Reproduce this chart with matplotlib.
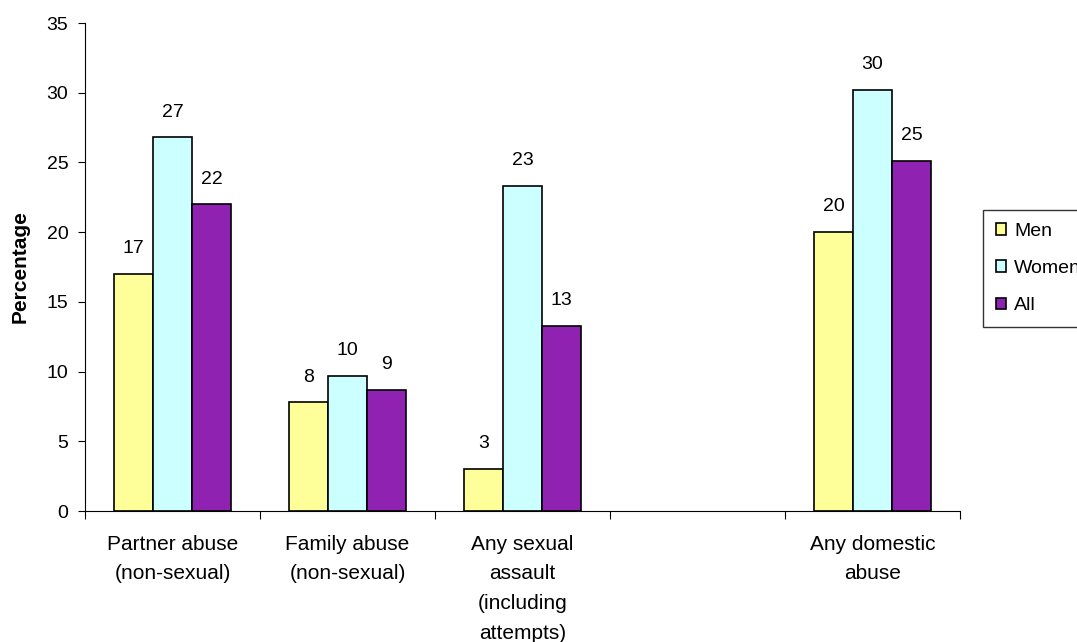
import numpy as np
import matplotlib
matplotlib.use("Agg")
import matplotlib.pyplot as plt

plt.rcParams['font.family'] = ['Liberation Sans', 'DejaVu Sans']

categories = ["Partner abuse\n(non-sexual)", "Family abuse\n(non-sexual)",
              "Any sexual\nassault\n(including\nattempts)", "", "Any domestic\nabuse"]
men = [17.0, 7.8, 3.0, None, 20.0]
women = [26.8, 9.7, 23.3, None, 30.2]
all_ = [22.0, 8.7, 13.3, None, 25.1]
series = [("Men", men, "#FFFF99"), ("Women", women, "#CCFFFF"), ("All", all_, "#8F22B1")]

fs = 14
fig = plt.figure(figsize=(10.77, 6.42), dpi=100)
ax = fig.add_axes([85 / 1077, 1 - 511 / 642, 875 / 1077, 488 / 642])

x = np.arange(len(categories))
w = 0.223
for i, (name, vals, color) in enumerate(series):
    xs = [xi + (i - 1) * w for xi, v in zip(x, vals) if v is not None]
    vs = [v for v in vals if v is not None]
    bars = ax.bar(xs, vs, w, color=color, edgecolor="black", linewidth=1.2, label=name)
    for b, v in zip(bars, vs):
        ax.text(b.get_x() + b.get_width() / 2, v + 1.2, f"{v:.0f}",
                ha="center", va="bottom", fontsize=fs)

ax.set_xlim(-0.5, len(categories) - 0.5)
ax.set_ylim(0, 35)
ax.set_yticks(np.arange(0, 36, 5))
ax.set_xticks(np.arange(-0.5, len(categories), 1.0))
ax.set_xticklabels([])
ax.set_xticks(x, minor=True)
ax.set_xticklabels(categories, minor=True, fontsize=15, va="top", linespacing=1.72)
ax.tick_params(axis="x", which="minor", length=0, pad=17)
ax.tick_params(axis="x", which="major", length=6, direction="out")
ax.tick_params(axis="y", length=5, labelsize=fs, pad=7)
ax.spines["top"].set_visible(False)
ax.spines["right"].set_visible(False)
ax.set_ylabel("Percentage", fontsize=15, fontweight="bold", labelpad=12)

leg = fig.legend(loc="upper left", bbox_to_anchor=(983 / 1077, 1 - 210 / 642),
                 fontsize=fs, frameon=True, fancybox=False, handlelength=0.55,
                 handleheight=0.55, handletextpad=0.4, borderpad=0.65,
                 borderaxespad=0, labelspacing=1.05)
leg.get_frame().set_edgecolor("black")
leg.get_frame().set_linewidth(1.0)

fig.savefig("out.png", dpi=100)
